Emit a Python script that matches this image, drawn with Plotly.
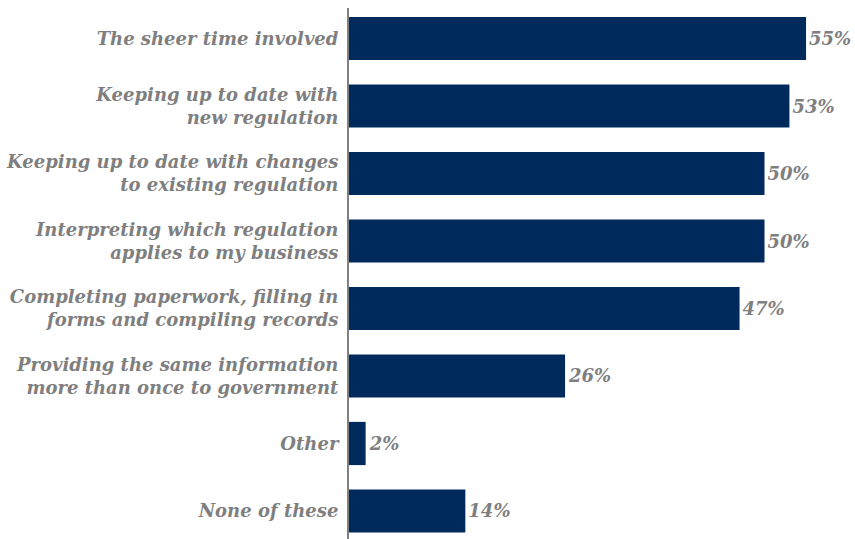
import plotly.graph_objects as go

categories = [
    "The sheer time involved",
    "Keeping up to date with<br>new regulation",
    "Keeping up to date with changes<br>to existing regulation",
    "Interpreting which regulation<br>applies to my business",
    "Completing paperwork, filling in<br>forms and compiling records",
    "Providing the same information<br>more than once to government",
    "Other",
    "None of these",
]
values = [55, 53, 50, 50, 47, 26, 2, 14]
value_labels = [f"{v}%" for v in values]

navy = "#002A5C"
grey = "#7F7F7F"
font_family = "DejaVu Serif"

positions = list(range(len(categories)))

fig = go.Figure(
    go.Bar(
        x=values,
        y=positions,
        orientation="h",
        width=0.64,
        marker=dict(color=navy, line=dict(width=0)),
        text=value_labels,
        textposition="outside",
        textfont=dict(family=font_family, size=18, color=grey, weight="bold", style="italic"),
        cliponaxis=False,
        hoverinfo="skip",
    )
)

fig.update_layout(
    width=855,
    height=539,
    margin=dict(l=349, r=0, t=8, b=0),
    paper_bgcolor="white",
    plot_bgcolor="white",
    showlegend=False,
    bargap=0.36,
)

fig.update_xaxes(
    range=[0, 506 / 8.31],
    visible=False,
    fixedrange=True,
)

fig.update_yaxes(
    tickmode="array",
    tickvals=positions,
    ticktext=categories,
    range=[7.415, -0.452],
    showgrid=False,
    zeroline=False,
    showline=True,
    linecolor="#808080",
    linewidth=2,
    ticks="",
    ticklabelstandoff=5,
    tickfont=dict(family=font_family, size=18, color=grey, weight="bold", style="italic"),
)

fig.write_html("out.html")
